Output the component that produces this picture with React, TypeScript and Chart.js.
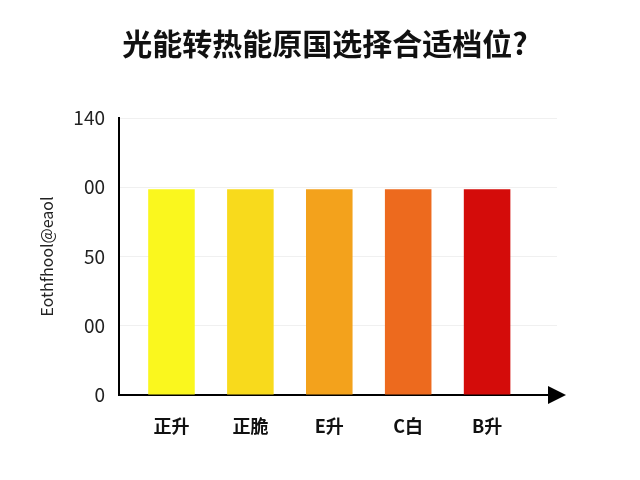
import React, { useEffect, useRef } from "react";
import { Chart, registerables } from "chart.js";

Chart.register(...registerables);

const titleText = "光能转热能原国选择合适档位?";
const yAxisTitle = "Eothfhool@eaol";
const categories = ["正升", "正脆", "E升", "C白", "B升"];
const values = [104, 104, 104, 104, 104];
const barColors = ["#FAF71E", "#F8DA1C", "#F3A21C", "#ED6A1E", "#D40C0A"];
const yTickValues = [0, 35, 70, 105, 140];
const yTickLabels = ["0", "00", "50", "00", "140"];

const FONT = "'Noto Sans CJK SC', 'Noto Sans', sans-serif";

const arrowPlugin = {
  id: "axisArrow",
  afterDraw(chart: any) {
    const { ctx, chartArea } = chart;
    const y = chartArea.bottom;
    const x0 = chartArea.right - 9;
    ctx.save();
    ctx.fillStyle = "#000";
    ctx.beginPath();
    ctx.moveTo(x0, y - 9);
    ctx.lineTo(x0 + 18, y);
    ctx.lineTo(x0, y + 9);
    ctx.closePath();
    ctx.fill();
    ctx.restore();
  },
};

export default function App() {
  const ref = useRef<HTMLCanvasElement | null>(null);
  useEffect(() => {
    if (!ref.current) return;
    const chart = new Chart(ref.current, {
      type: "bar",
      data: {
        datasets: [
          {
            data: values.map((v, i) => ({ x: i, y: v })),
            backgroundColor: barColors,
            borderWidth: 0,
            barPercentage: 0.59,
            categoryPercentage: 1,
          },
        ],
      },
      options: {
        animation: false,
        responsive: true,
        maintainAspectRatio: false,
        layout: { padding: { left: 10, right: 0, top: 0, bottom: 0 } },
        plugins: {
          legend: { display: false },
          tooltip: { enabled: false },
          title: {
            display: true,
            text: titleText,
            color: "#111",
            font: { family: FONT, size: 30, weight: "bold" },
            padding: { top: 26, bottom: 56 },
          },
        },
        scales: {
          x: {
            type: "linear",
            offset: false,
            min: -0.665,
            max: 4.886,
            afterBuildTicks: (scale: any) => {
              scale.ticks = categories.map((_, i) => ({ value: i }));
            },
            afterFit: (scale: any) => {
              scale.height = 85;
            },
            grid: { display: false, drawTicks: false, offset: false },
            border: { display: true, color: "#000", width: 2 },
            ticks: {
              padding: 20,
              color: "#111",
              font: { family: FONT, size: 18, weight: "bold" },
              callback: (v: any) => categories[v] ?? "",
            },
          },
          y: {
            min: 0,
            max: 140,
            afterBuildTicks: (scale: any) => {
              scale.ticks = yTickValues.map((v) => ({ value: v }));
            },
            afterFit: (scale: any) => {
              scale.width = 109;
            },
            grid: { color: "#f0f0f0", lineWidth: 1, drawTicks: false },
            border: { display: true, color: "#000", width: 2 },
            title: {
              display: true,
              text: yAxisTitle,
              color: "#222",
              font: { family: FONT, size: 16 },
              padding: { top: 27, bottom: 0 },
            },
            ticks: {
              padding: 14,
              color: "#222",
              font: { family: FONT, size: 19 },
              callback: (v: any) => {
                const i = yTickValues.indexOf(v);
                return i >= 0 ? yTickLabels[i] : "";
              },
            },
          },
          yRight: {
            position: "right",
            display: true,
            min: 0,
            max: 140,
            afterFit: (scale: any) => {
              scale.width = 83;
            },
            grid: { display: false, drawTicks: false },
            border: { display: false },
            ticks: { display: false },
          },
        },
      },
      plugins: [arrowPlugin],
    } as any);
    return () => chart.destroy();
  }, []);
  return (
    <div style={{ position: "absolute", left: 0, top: 0, width: 640, height: 480, background: "#fff" }}>
      <canvas ref={ref} />
    </div>
  );
}
